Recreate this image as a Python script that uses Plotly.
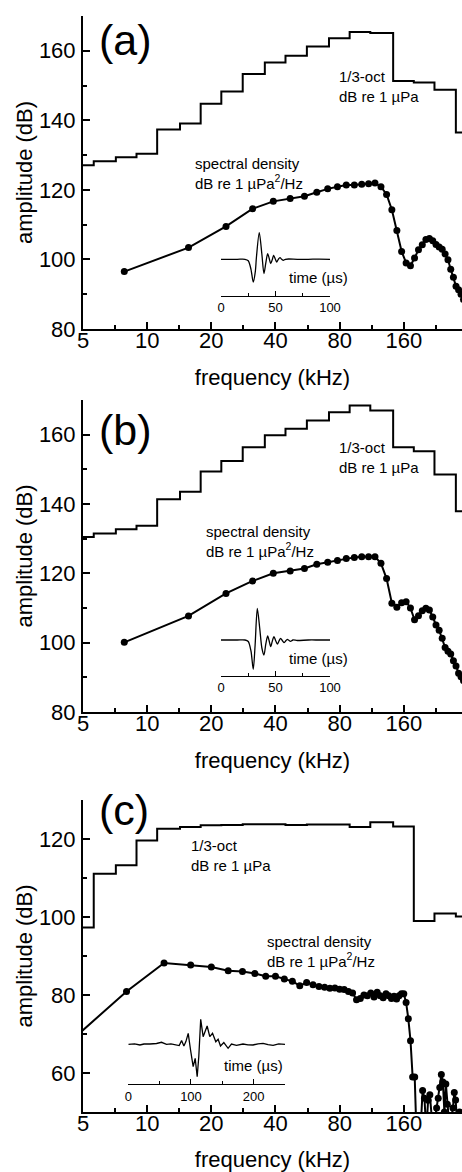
import plotly.graph_objects as go
import math

W, H = 462, 1172
def PX(x):
    return x / W
def PY(y):
    return 1 - y / H

FONT = "Arial, Liberation Sans, sans-serif"

# ---------------- data ----------------
# 1/3-octave band centre frequencies (kHz)
band_centres = [5, 6.3, 8, 10, 12.5, 16, 20, 25, 31.5, 40, 50, 63, 80, 100, 125, 160, 200, 250, 315]
octave_a = [127.1, 128.2, 129.4, 130.4, 137.4, 139.1, 144.8, 148.3, 153.3, 156.6, 158.6, 161.2,
            163.6, 165.4, 165.1, 151.3, 150.9, 148.8, 136.5]
octave_b = [130.5, 131.5, 132.7, 133.7, 141.4, 143.5, 149.4, 152.4, 156.4, 159.8, 161.7, 164.1,
            166.5, 168.4, 167.0, 156.4, 155.2, 148.5, 137.9]
octave_c = [97.3, 111.1, 113.3, 119.6, 122.6, 123.1, 123.5, 123.6, 123.8, 123.8, 123.6, 123.7,
            123.7, 123.1, 124.3, 123.2, 99.0, 100.9, 100.1]

# spectral density (FFT bins) panels a and b (kHz)
freq_ab = [7.81, 15.63, 23.44, 31.25, 39.06, 46.88, 54.69, 62.5, 70.31, 78.13, 85.94, 93.75,
           101.56, 109.38, 117.19, 125.0, 132.81, 140.63, 148.44, 156.25, 164.06, 171.88,
           179.69, 187.5, 195.31, 203.13, 210.94, 218.75, 226.56, 234.38, 242.19, 250.0,
           257.81, 265.63, 273.44, 281.25, 289.06, 296.88, 304.69]
spec_a = [96.5, 103.4, 109.5, 114.6, 116.7, 117.5, 118.2, 119.3, 120.3, 120.9, 121.4, 121.4,
          121.6, 121.8, 122.0, 120.9, 118.7, 114.3, 108.3, 102.3, 99.0, 98.2, 100.4, 102.8,
          104.2, 105.7, 106.0, 105.4, 104.3, 103.6, 102.9, 101.6, 99.9, 97.2, 94.9, 92.3,
          91.3, 90.0, 88.5]
spec_b = [100.1, 107.7, 114.2, 117.8, 120.0, 120.7, 121.4, 122.6, 123.2, 123.7, 124.3, 124.6,
          124.8, 124.8, 124.8, 122.9, 118.5, 111.4, 110.2, 111.5, 111.8, 110.0, 106.6, 107.8,
          109.2, 109.9, 109.4, 107.4, 105.1, 103.6, 101.3, 98.6, 97.5, 96.7, 94.8, 93.3,
          91.2, 90.2, 89.0]

# spectral density panel c (kHz)
freq_c = [4, 8, 12, 16, 20, 24, 28, 32, 36, 40, 44, 48, 52, 56, 60, 64, 68, 72, 76, 80,
          84, 88, 92, 96, 100, 104, 108, 112, 116, 120, 124, 128, 132, 136, 140, 144, 148,
          152, 156, 160, 164, 168, 172, 176, 180, 184, 188, 192, 196, 200, 204, 208, 212,
          216, 220, 224, 228, 232, 236, 240, 244, 248, 252, 256, 260, 264, 268, 272, 276,
          280, 284, 288, 292, 296, 300]
spec_c = [66.3, 80.9, 88.2, 87.7, 87.2, 86.2, 86.0, 85.5, 84.8, 84.8, 84.1, 83.5, 82.4, 83.2,
          82.6, 82.2, 82.0, 81.7, 81.8, 81.5, 81.4, 80.9, 80.5, 78.8, 79.1, 80.0, 79.8, 80.5,
          79.5, 80.7, 79.8, 79.3, 80.3, 79.8, 79.1, 79.7, 79.0, 79.8, 80.3, 80.3, 78.1, 73.9,
          68.3, 59.0, 59.0, 42, 44, 46, 55.5, 53.5, 45, 53.0, 54.4, 47, 44, 48, 51, 53.5,
          56.3, 59.6, 57.7, 50, 57.2, 52, 46, 44, 49, 51, 55.0, 53.1, 48, 45, 50, 46, 48]

# inset waveforms: time (us) and amplitude (arbitrary units)
wave_t_a = [0, 15, 22, 25, 27.5, 29.6, 31.5, 32.5, 35.1, 37.5, 39.4, 41.2, 42.8, 44.3, 45.6, 47,
            48.3, 49.7, 51.1, 52.6, 54.1, 55.7, 57.2, 59, 62, 70, 80, 90, 100]
wave_v_a = [0, 0, 0, -1.5, -10, -22.7, -12, 2, 26.7, 5, -14.3, -3, 5.7, 0.5, -4.3, -0.5,
            4, 0.5, -2.7, 0, 1.7, 0, -1, 0, 0.3, 0, 0, 0.2, 0]
wave_t_b = [0, 15, 22, 25, 27.5, 29.6, 31.3, 33.3, 35.5, 37.5, 39.4, 41.1, 42.8, 44.2, 45.6,
            47.1, 48.6, 50.1, 51.7, 53.2, 54.7, 56.2, 57.8, 59.3, 60.8, 62.3, 63.8, 66, 70, 80,
            90, 100]
wave_v_b = [0, 0, 0, -1.5, -11, -29.3, -5, 31.7, 12, -8, -15, -4, 4, -1, -6.7, -1, 3.3, -0.5,
            -4, -1, 1.7, -0.5, -2.7, -1, 0.7, -0.3, -1.3, 0, -0.5, 0, 0, 0]
wave_t_c = [0, 10, 18.6, 25, 34.5, 45, 53, 61, 68, 74.3, 81.2, 85, 88.7, 91.9, 95.6, 99.3,
            103.5, 106.7, 109.9, 112.5, 115.5, 119.4, 125.8, 130, 134.4, 139.6, 143.3, 147.1,
            152.4, 159.2, 164.6, 172.6, 183, 191, 199, 207, 215, 223, 231, 240, 250]
wave_v_c = [0, 0.5, -0.7, 0.3, 0.3, 0.8, 2, 0, 0.5, -0.3, -1.3, 3.7, -1.7, 2.7, 11, -5.7,
            -22.3, -14, -32.4, -12, 25, 7.6, 18.3, 7.6, 11, 2.6, 5, -1.7, 1.7, -4, 0.3, -1,
            0.3, -0.5, -0.7, 0.5, 1, -0.3, -1, 0.5, 0]

major_f = [5, 10, 20, 40, 80, 160]
minor_f = [7.07, 14.14, 28.28, 56.57, 113.1, 226.3]

# ---------------- figure ----------------
fig = go.Figure()

def steps(levels):
    lo = [c * 10 ** -0.05 for c in band_centres]
    hi_last = band_centres[-1] * 10 ** 0.05
    return lo + [hi_last], list(levels) + [levels[-1]]

panels = [
    dict(oct=octave_a, fx=freq_ab, sd=spec_a, wt=wave_t_a, wv=wave_v_a),
    dict(oct=octave_b, fx=freq_ab, sd=spec_b, wt=wave_t_b, wv=wave_v_b),
    dict(oct=octave_c, fx=freq_c, sd=spec_c, wt=wave_t_c, wv=wave_v_c),
]
for i, p in enumerate(panels):
    xa = "x" if i == 0 else f"x{i+1}"
    ya = "y" if i == 0 else f"y{i+1}"
    sx, sy = steps(p["oct"])
    fig.add_trace(go.Scatter(x=sx, y=sy, mode="lines", line=dict(color="black", width=2, shape="hv"),
                             xaxis=xa, yaxis=ya, showlegend=False, hoverinfo="skip"))
    fig.add_trace(go.Scatter(x=p["fx"], y=p["sd"], mode="lines+markers",
                             line=dict(color="black", width=2),
                             marker=dict(color="black", size=7),
                             xaxis=xa, yaxis=ya, showlegend=False, cliponaxis=True))
    xi = f"x{i+4}"
    yi = f"y{i+4}"
    fig.add_trace(go.Scatter(x=p["wt"], y=p["wv"], mode="lines",
                             line=dict(color="black", width=1.3,
                                       shape="spline" if i < 2 else "linear", smoothing=0.8),
                             xaxis=xi, yaxis=yi, showlegend=False))

# main axes geometry (pixels)
main_y = [(16, 329, [80, 170], 80), (400, 712, [80, 170], 80), (800, 1112, [50, 130], 60)]
inset = [
    dict(x0=221, x1=330, yb=295.7, yt=225, base=259.3, rng=[0, 100], tv=[0, 50, 100], mv=[25, 75]),
    dict(x0=221, x1=330, yb=675.7, yt=600, base=640, rng=[0, 100], tv=[0, 50, 100], mv=[25, 75]),
    dict(x0=128.3, x1=285, yb=1084.3, yt=1010, base=1044.3, rng=[0, 250], tv=[0, 100, 200], mv=[50, 150, 250]),
]

layout = dict(width=W, height=H, margin=dict(l=0, r=0, t=0, b=0),
              paper_bgcolor="white", plot_bgcolor="rgba(0,0,0,0)",
              font=dict(family=FONT, color="black"), showlegend=False)

for i, (yt, yb, yr, t0) in enumerate(main_y):
    sfx = "" if i == 0 else str(i + 1)
    layout["xaxis" + sfx] = dict(
        type="log", range=[math.log10(5), math.log10(300)], domain=[PX(83), 1],
        anchor="y" + sfx, showline=True, linecolor="black", linewidth=2,
        ticks="inside", ticklen=7, tickwidth=2, tickcolor="black",
        tickmode="array", tickvals=major_f, ticktext=[str(v) for v in major_f],
        tickfont=dict(size=22), ticklabelstandoff=-9,
        showgrid=False, zeroline=False, automargin=False,
        minor=dict(tickmode="array", tickvals=minor_f, ticks="inside", ticklen=4,
                   tickwidth=2, tickcolor="black", showgrid=False),
        title=dict(text="frequency (kHz)", font=dict(size=22), standoff=17),
    )
    layout["yaxis" + sfx] = dict(
        range=yr, domain=[PY(yb), PY(yt)], anchor="x" + sfx,
        showline=True, linecolor="black", linewidth=2,
        ticks="inside", ticklen=7, tickwidth=2, tickcolor="black",
        tick0=t0, dtick=20, tickfont=dict(size=22), ticklabelstandoff=1,
        showgrid=False, zeroline=False, automargin=False,
        minor=dict(dtick=10, tick0=t0, ticks="inside", ticklen=4, tickwidth=2,
                   tickcolor="black", showgrid=False),
        title=dict(text="amplitude (dB)", font=dict(size=22), standoff=0),
    )

for i, g in enumerate(inset):
    n = i + 4
    layout[f"xaxis{n}"] = dict(
        domain=[PX(g["x0"]), PX(g["x1"])], range=g["rng"], anchor=f"y{n}",
        showline=True, linecolor="black", linewidth=1.3,
        ticks="inside", ticklen=5, tickwidth=1.3, tickcolor="black",
        tickmode="array", tickvals=g["tv"], tickfont=dict(size=13),
        showgrid=False, zeroline=False, automargin=False,
        minor=dict(tickmode="array", tickvals=g["mv"], ticks="inside", ticklen=3,
                   tickwidth=1.3, tickcolor="black", showgrid=False),
    )
    layout[f"yaxis{n}"] = dict(
        domain=[PY(g["yb"]), PY(g["yt"])],
        range=[-(g["yb"] - g["base"]), g["base"] - g["yt"]],
        anchor=f"x{n}", visible=False, showgrid=False, zeroline=False,
    )

ann = []
def txt(x, y, s, size=15, xanchor="left", yanchor="middle"):
    ann.append(dict(x=PX(x), y=PY(y), xref="paper", yref="paper", text=s, showarrow=False,
                    xanchor=xanchor, yanchor=yanchor, align="left",
                    font=dict(size=size, family=FONT, color="black")))

# panel letters
txt(126, 40, "(a)", size=43, xanchor="center")
txt(126, 430, "(b)", size=43, xanchor="center")
txt(124, 810, "(c)", size=43, xanchor="center")
# 1/3-octave labels
txt(337, 86.5, "1/3-oct<br>dB re 1 µPa")
txt(337, 457.5, "1/3-oct<br>dB re 1 µPa")
txt(189, 855, "1/3-oct<br>dB re 1 µPa")
# spectral density labels
txt(193, 173, "spectral density<br>dB re 1 µPa<sup>2</sup>/Hz")
txt(204, 541.5, "spectral density<br>dB re 1 µPa<sup>2</sup>/Hz")
txt(265, 951, "spectral density<br>dB re 1 µPa<sup>2</sup>/Hz")
# inset axis titles
txt(318, 277, "time (µs)", xanchor="center")
txt(318, 658, "time (µs)", xanchor="center")
txt(253, 1065, "time (µs)", xanchor="center")

layout["annotations"] = ann
fig.update_layout(**layout)
fig.write_html("out.html")
